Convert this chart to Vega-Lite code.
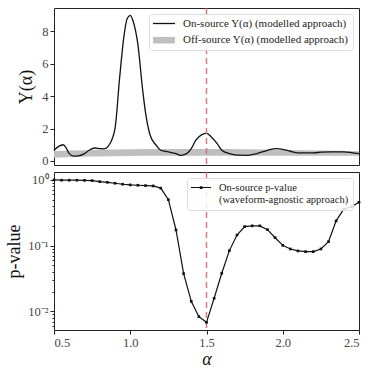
{
  "$schema": "https://vega.github.io/schema/vega-lite/v6.json",
  "padding": {"left": 5, "top": 6, "right": 14, "bottom": 2},
  "spacing": 2,
  "resolve": {"scale": {"color": "independent"}, "legend": {"color": "independent"}},
  "config": {
    "view": {"stroke": "#222", "strokeWidth": 1},
    "axis": {"domain": false, "grid": false, "tickColor": "#222", "tickSize": 4, "labelFont": "Liberation Serif", "labelFontSize": 12.5, "labelColor": "#444", "titleFont": "Liberation Serif", "titleFontSize": 18, "titleFontWeight": "normal", "titleColor": "#111", "labelOverlap": false},
    "legend": {"labelFont": "Liberation Serif", "labelFontSize": 11, "labelColor": "#222", "labelLimit": 0, "fillColor": "rgba(255,255,255,0.85)", "strokeColor": "#ddd", "cornerRadius": 3, "padding": 4, "rowPadding": 4.7, "symbolSize": 121, "title": null}
  },
  "datasets": {
    "curve": [
      {"a": 0.5, "y": 0.66}, {"a": 0.53, "y": 0.9}, {"a": 0.56, "y": 1.0}, {"a": 0.58, "y": 0.8}, {"a": 0.6, "y": 0.45},
      {"a": 0.63, "y": 0.3}, {"a": 0.66, "y": 0.32}, {"a": 0.7, "y": 0.45}, {"a": 0.73, "y": 0.66}, {"a": 0.77, "y": 0.8},
      {"a": 0.8, "y": 0.76}, {"a": 0.83, "y": 0.75}, {"a": 0.86, "y": 0.97}, {"a": 0.9, "y": 2.0}, {"a": 0.93, "y": 5.1},
      {"a": 0.96, "y": 7.8}, {"a": 0.98, "y": 8.8}, {"a": 1.0, "y": 9.0}, {"a": 1.02, "y": 8.6}, {"a": 1.05, "y": 7.2},
      {"a": 1.08, "y": 4.5}, {"a": 1.1, "y": 3.0}, {"a": 1.13, "y": 1.6}, {"a": 1.17, "y": 0.97}, {"a": 1.2, "y": 0.66},
      {"a": 1.25, "y": 0.56}, {"a": 1.3, "y": 0.45}, {"a": 1.33, "y": 0.35}, {"a": 1.37, "y": 0.45}, {"a": 1.4, "y": 0.76},
      {"a": 1.43, "y": 1.28}, {"a": 1.47, "y": 1.63}, {"a": 1.5, "y": 1.7}, {"a": 1.53, "y": 1.5}, {"a": 1.57, "y": 1.07},
      {"a": 1.6, "y": 0.66}, {"a": 1.65, "y": 0.45}, {"a": 1.7, "y": 0.36}, {"a": 1.77, "y": 0.35}, {"a": 1.83, "y": 0.45},
      {"a": 1.9, "y": 0.66}, {"a": 1.96, "y": 0.76}, {"a": 2.0, "y": 0.72}, {"a": 2.05, "y": 0.6}, {"a": 2.1, "y": 0.5},
      {"a": 2.2, "y": 0.5}, {"a": 2.25, "y": 0.54}, {"a": 2.32, "y": 0.56}, {"a": 2.4, "y": 0.56}, {"a": 2.45, "y": 0.52},
      {"a": 2.5, "y": 0.45}
    ],
    "band": [
      {"a": 0.5, "lo": 0.2, "hi": 0.62}, {"a": 0.75, "lo": 0.27, "hi": 0.68}, {"a": 1.0, "lo": 0.3, "hi": 0.72},
      {"a": 1.25, "lo": 0.32, "hi": 0.74}, {"a": 1.5, "lo": 0.32, "hi": 0.74}, {"a": 1.75, "lo": 0.32, "hi": 0.72},
      {"a": 2.0, "lo": 0.32, "hi": 0.68}, {"a": 2.25, "lo": 0.32, "hi": 0.64}, {"a": 2.5, "lo": 0.32, "hi": 0.6}
    ],
    "pval": [
      {"a": 0.5, "p": 1.0}, {"a": 0.55, "p": 0.99}, {"a": 0.6, "p": 0.99}, {"a": 0.65, "p": 0.99}, {"a": 0.7, "p": 0.985},
      {"a": 0.75, "p": 0.975}, {"a": 0.8, "p": 0.94}, {"a": 0.85, "p": 0.92}, {"a": 0.9, "p": 0.89}, {"a": 0.95, "p": 0.86},
      {"a": 1.0, "p": 0.84}, {"a": 1.05, "p": 0.83}, {"a": 1.1, "p": 0.82}, {"a": 1.15, "p": 0.81}, {"a": 1.2, "p": 0.75},
      {"a": 1.25, "p": 0.5}, {"a": 1.3, "p": 0.173}, {"a": 1.35, "p": 0.0375}, {"a": 1.4, "p": 0.0142}, {"a": 1.45, "p": 0.0083},
      {"a": 1.5, "p": 0.0068}, {"a": 1.55, "p": 0.0158}, {"a": 1.6, "p": 0.038}, {"a": 1.65, "p": 0.084}, {"a": 1.7, "p": 0.145},
      {"a": 1.75, "p": 0.195}, {"a": 1.8, "p": 0.2}, {"a": 1.85, "p": 0.2}, {"a": 1.9, "p": 0.175}, {"a": 1.95, "p": 0.132},
      {"a": 2.0, "p": 0.101}, {"a": 2.05, "p": 0.089}, {"a": 2.1, "p": 0.083}, {"a": 2.15, "p": 0.081}, {"a": 2.2, "p": 0.081},
      {"a": 2.25, "p": 0.089}, {"a": 2.3, "p": 0.115}, {"a": 2.35, "p": 0.238}, {"a": 2.4, "p": 0.36}, {"a": 2.45, "p": 0.39},
      {"a": 2.5, "p": 0.457}
    ],
    "vline": [{"a": 1.5}]
  },
  "vconcat": [
    {
      "width": 305,
      "height": 157,
      "layer": [
        {
          "data": {"name": "band"},
          "transform": [{"calculate": "'off'", "as": "series"}],
          "mark": {"type": "area", "opacity": 1, "interpolate": "monotone"},
          "encoding": {
            "x": {"field": "a", "type": "quantitative", "scale": {"domain": [0.5, 2.5], "nice": false}, "axis": {"labels": false, "ticks": false, "title": null, "values": [0.5, 1.0, 1.5, 2.0, 2.5]}},
            "y": {"field": "lo", "type": "quantitative", "scale": {"domain": [-0.25, 9.45], "nice": false, "zero": false}, "axis": {"title": "Y(α)", "values": [0, 2, 4, 6, 8], "titlePadding": 6}},
            "y2": {"field": "hi"},
            "color": {"field": "series", "type": "nominal"}
          }
        },
        {
          "data": {"name": "curve"},
          "transform": [{"calculate": "'on'", "as": "series"}],
          "mark": {"type": "line", "strokeWidth": 1.3, "interpolate": "monotone"},
          "encoding": {
            "x": {"field": "a", "type": "quantitative", "scale": {"domain": [0.5, 2.5], "nice": false}, "axis": {"labels": false, "ticks": false, "title": null, "values": [0.5, 1.0, 1.5, 2.0, 2.5]}},
            "y": {"field": "y", "type": "quantitative", "scale": {"domain": [-0.25, 9.45], "nice": false, "zero": false}, "axis": {"title": "Y(α)", "values": [0, 2, 4, 6, 8], "titlePadding": 6}},
            "color": {
              "field": "series", "type": "nominal",
              "scale": {"domain": ["on", "off"], "range": ["#111111", "#bfbfbf"]},
              "legend": {
                "orient": "top-right", "offset": 6, "labelOffset": 19,
                "labelExpr": "datum.value === 'on' ? 'On-source Y(α) (modelled approach)' : 'Off-source Y(α) (modelled approach)'",
                "encode": {"symbols": {"update": {
                  "shape": {"signal": "datum.value === 'on' ? 'M-1,-0.12H3V0.12H-1Z' : 'M-1,-0.6H3V0.6H-1Z'"},
                  "fill": {"signal": "datum.value === 'on' ? '#111111' : '#bfbfbf'"},
                  "stroke": {"value": "transparent"},
                  "strokeWidth": {"value": 0},
                  "opacity": {"value": 1}
                }}}
              }
            }
          }
        },
        {
          "data": {"name": "vline"},
          "mark": {"type": "rule", "color": "#d66a6a", "strokeWidth": 1.5, "strokeDash": [6, 4], "opacity": 0.9},
          "encoding": {"x": {"field": "a", "type": "quantitative"}}
        }
      ]
    },
    {
      "width": 305,
      "height": 158,
      "resolve": {"axis": {"y": "independent"}},
      "layer": [
        {
          "data": {"name": "vline"},
          "mark": {"type": "rule", "color": "#d66a6a", "strokeWidth": 1.5, "strokeDash": [6, 4], "opacity": 0.9},
          "encoding": {"x": {"field": "a", "type": "quantitative", "scale": {"domain": [0.5, 2.5], "nice": false}, "axis": {"title": "α", "titleFontStyle": "italic", "values": [0.5, 1.0, 1.5, 2.0, 2.5], "format": ".1f", "titlePadding": 2}}}
        },
        {
          "data": {"name": "pval"},
          "transform": [{"calculate": "'p'", "as": "series"}],
          "mark": {"type": "line", "strokeWidth": 1.2, "color": "#111"},
          "encoding": {
            "x": {"field": "a", "type": "quantitative", "scale": {"domain": [0.5, 2.5], "nice": false}, "axis": {"title": "α", "titleFontStyle": "italic", "values": [0.5, 1.0, 1.5, 2.0, 2.5], "format": ".1f", "titlePadding": 2}},
            "y": {"field": "p", "type": "quantitative", "scale": {"type": "log", "domain": [0.0052, 1.32], "nice": false}, "axis": {"orient": "left", "title": "p-value", "values": [0.01, 0.1, 1], "labelExpr": "datum.value >= 0.5 ? '10⁰' : datum.value >= 0.05 ? '10⁻¹' : '10⁻²'", "titlePadding": 4}},
            "color": {
              "field": "series", "type": "nominal",
              "scale": {"domain": ["p"], "range": ["#111111"]},
              "legend": {
                "orient": "top-right", "offset": 6, "labelOffset": 17, "labelFontSize": 10.5,
                "labelExpr": "['On-source p-value', '(waveform-agnostic approach)']",
                "encode": {"symbols": {"update": {
                  "shape": {"value": "M-1,-0.11H2.65V0.11H-1Z M0.6,-0.25H1.1V0.25H0.6Z"},
                  "fill": {"value": "#111111"},
                  "stroke": {"value": "transparent"},
                  "strokeWidth": {"value": 0},
                  "opacity": {"value": 1}
                }}}
              }
            }
          }
        },
        {
          "data": {"name": "pval"},
          "mark": {"type": "square", "size": 7, "filled": true, "color": "#111", "opacity": 1},
          "encoding": {
            "x": {"field": "a", "type": "quantitative"},
            "y": {"field": "p", "type": "quantitative", "axis": {"orient": "left", "title": null, "labels": false, "tickSize": 2, "values": [0.006, 0.007, 0.008, 0.009, 0.02, 0.03, 0.04, 0.05, 0.06, 0.07, 0.08, 0.09, 0.2, 0.3, 0.4, 0.5, 0.6, 0.7, 0.8, 0.9]}}
          }
        }
      ]
    }
  ]
}
